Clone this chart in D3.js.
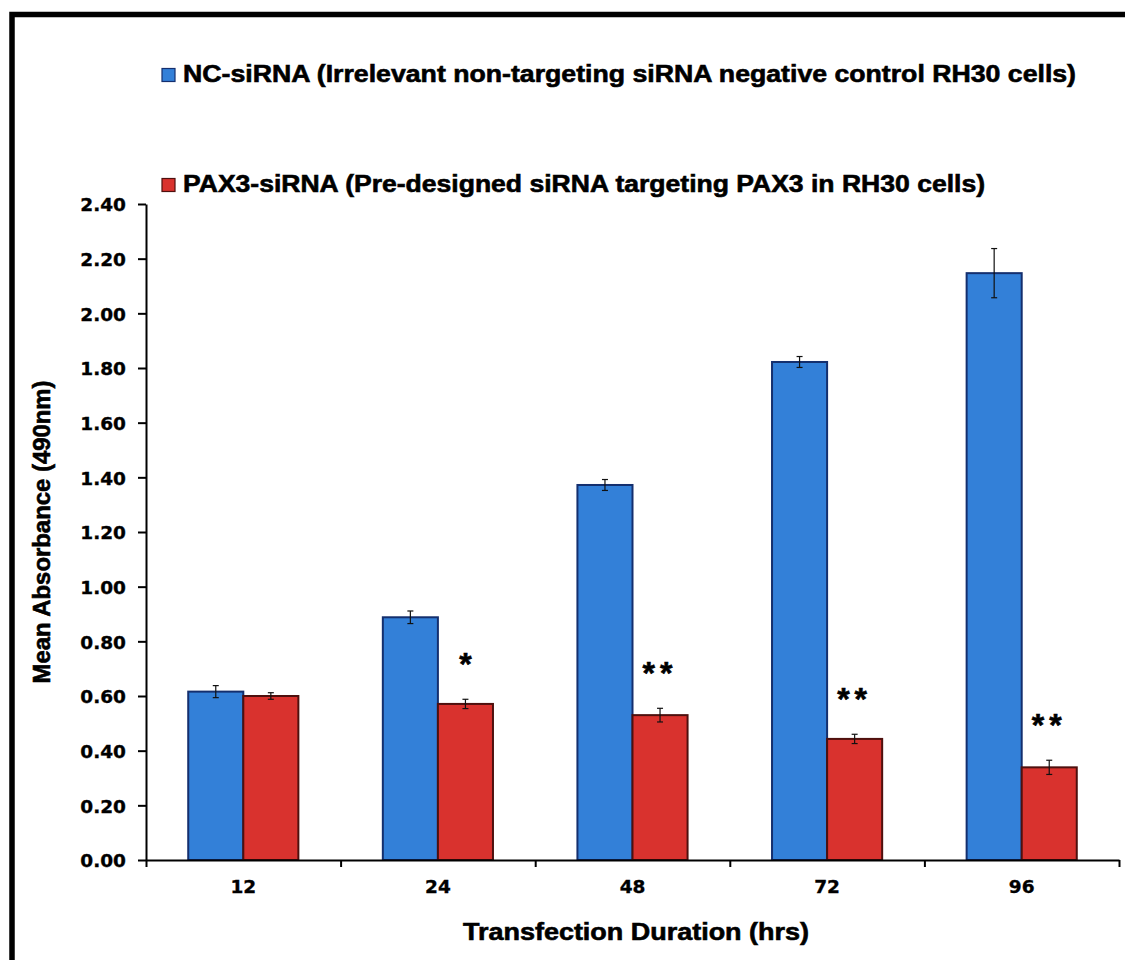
<!DOCTYPE html>
<html>
<head>
<meta charset="utf-8">
<script src="https://cdn.jsdelivr.net/npm/d3@7/dist/d3.min.js"></script>
<style>
  html, body { margin: 0; padding: 0; background: #fff; }
  svg { display: block; }
  .lbl { font-family: "Liberation Sans", Arial, sans-serif; font-weight: bold; fill: #000; stroke: #000; stroke-width: 0.6px; }
  .tick text { font-family: "DejaVu Sans", "Liberation Sans", sans-serif; font-weight: bold; font-size: 18.5px; fill: #000; stroke: #000; stroke-width: 0.35px; }
</style>
</head>
<body>
<svg id="chart" width="1125" height="960"></svg>
<script>
// Transfection time points (hours)
const hours = ["12", "24", "48", "72", "96"];

// Series names
const seriesNames = [
  "NC-siRNA (Irrelevant non-targeting siRNA negative control RH30 cells)",
  "PAX3-siRNA (Pre-designed siRNA targeting PAX3 in RH30 cells)"
];

// Mean absorbance at 490 nm and error (SD)
const ncMean  = [0.616, 0.888, 1.372, 1.822, 2.147];
const ncErr   = [0.022, 0.023, 0.020, 0.020, 0.090];
const paxMean = [0.600, 0.571, 0.530, 0.443, 0.339];
const paxErr  = [0.012, 0.017, 0.025, 0.017, 0.026];

// Significance markers for PAX3-siRNA vs control
const significance = ["", "*", "**", "**", "**"];

// Y axis tick values
const yTicks = [0, 0.2, 0.4, 0.6, 0.8, 1.0, 1.2, 1.4, 1.6, 1.8, 2.0, 2.2, 2.4];

const colors = { nc: "#3380d8", ncEdge: "#142f6e", pax: "#d9322e", paxEdge: "#4e100e" };

const svg = d3.select("#chart");

// Outer frame (only top and left edges fall inside the page)
svg.append("path")
  .attr("d", "M12,965 L12,14.5 L1130,14.5")
  .attr("fill", "none").attr("stroke", "#000").attr("stroke-width", 5.5);

const plot = { left: 146, right: 1119, top: 204, bottom: 860 };

const y = d3.scaleLinear().domain([0, 2.4]).range([plot.bottom, plot.top]);
const x = d3.scaleBand().domain(hours).range([plot.left, plot.right])
  .paddingInner(0.434).paddingOuter(0.217);
const xSub = d3.scaleBand().domain(["nc", "pax"]).range([0, x.bandwidth()]);

const rows = hours.map((h, i) => ({
  h,
  bars: [
    { key: "nc", v: ncMean[i], e: ncErr[i] },
    { key: "pax", v: paxMean[i], e: paxErr[i] }
  ],
  sig: significance[i]
}));

// Bars
const groups = svg.append("g").selectAll("g").data(rows).join("g")
  .attr("transform", d => `translate(${x(d.h)},0)`);

groups.selectAll("rect").data(d => d.bars).join("rect")
  .attr("x", d => xSub(d.key))
  .attr("y", d => y(d.v))
  .attr("width", xSub.bandwidth())
  .attr("height", d => y(0) - y(d.v))
  .attr("fill", d => colors[d.key])
  .attr("stroke", d => colors[d.key + "Edge"])
  .attr("stroke-width", 2);

// Error bars
const eb = groups.selectAll("g.err").data(d => d.bars).join("g").attr("class", "err")
  .attr("stroke", "#111").attr("stroke-width", 1.2);
eb.append("line")
  .attr("x1", d => xSub(d.key) + xSub.bandwidth() / 2)
  .attr("x2", d => xSub(d.key) + xSub.bandwidth() / 2)
  .attr("y1", d => y(d.v + d.e)).attr("y2", d => y(d.v - d.e));
eb.selectAll("line.cap").data(d => [[d, d.v + d.e], [d, d.v - d.e]]).join("line")
  .attr("class", "cap")
  .attr("x1", d => xSub(d[0].key) + xSub.bandwidth() / 2 - 3)
  .attr("x2", d => xSub(d[0].key) + xSub.bandwidth() / 2 + 3)
  .attr("y1", d => y(d[1])).attr("y2", d => y(d[1]));

// Significance asterisks above PAX3-siRNA bars
groups.append("text").attr("class", "lbl")
  .attr("x", xSub("pax") + xSub.bandwidth() / 2)
  .attr("y", d => y(d.bars[1].v + d.bars[1].e) - 24)
  .attr("text-anchor", "middle")
  .attr("font-size", 32)
  .attr("letter-spacing", d => d.sig.length > 1 ? 5 : 0)
  .text(d => d.sig);

// Y axis
const yAxis = svg.append("g").attr("transform", `translate(${plot.left},0)`)
  .call(d3.axisLeft(y).tickValues(yTicks).tickFormat(d3.format(".2f"))
    .tickSize(8).tickSizeOuter(0).tickPadding(12));
yAxis.selectAll("path, line").attr("stroke", "#000").attr("stroke-width", 2);
yAxis.selectAll(".tick text").attr("dy", "0.36em");

// X axis: category labels at band centres
const xAxis = svg.append("g").attr("transform", `translate(0,${plot.bottom})`)
  .call(d3.axisBottom(x).tickSize(0).tickPadding(20));
xAxis.select(".domain").remove();

// X axis line with tick marks at category boundaries
const xEdges = d3.scaleLinear().domain([0, hours.length]).range([plot.left, plot.right]);
const xLine = svg.append("g").attr("transform", `translate(0,${plot.bottom})`)
  .call(d3.axisBottom(xEdges).tickValues(d3.range(hours.length + 1)).tickFormat("")
    .tickSize(7).tickSizeOuter(0));
xLine.selectAll("path, line").attr("stroke", "#000").attr("stroke-width", 2);

// Axis titles
svg.append("text").attr("class", "lbl")
  .attr("x", 636).attr("y", 940).attr("text-anchor", "middle")
  .attr("font-size", 23.5)
  .attr("textLength", 346).attr("lengthAdjust", "spacingAndGlyphs")
  .text("Transfection Duration (hrs)");

svg.append("text").attr("class", "lbl")
  .attr("transform", "translate(50,532) rotate(-90)")
  .attr("text-anchor", "middle")
  .attr("font-size", 23.5)
  .attr("textLength", 303).attr("lengthAdjust", "spacingAndGlyphs")
  .text("Mean Absorbance (490nm)");

// Legend
const legend = svg.append("g");
const legendRows = [
  { key: "nc", name: seriesNames[0], base: 82, width: 893 },
  { key: "pax", name: seriesNames[1], base: 192, width: 802 }
];
legendRows.forEach(r => {
  legend.append("rect")
    .attr("x", 162).attr("y", r.base - 13.5)
    .attr("width", 13).attr("height", 13)
    .attr("fill", colors[r.key]).attr("stroke", colors[r.key + "Edge"]).attr("stroke-width", 1.2);
  legend.append("text").attr("class", "lbl")
    .attr("x", 183).attr("y", r.base)
    .attr("font-size", 23.5)
    .attr("textLength", r.width).attr("lengthAdjust", "spacingAndGlyphs")
    .text(r.name);
});
</script>
</body>
</html>
